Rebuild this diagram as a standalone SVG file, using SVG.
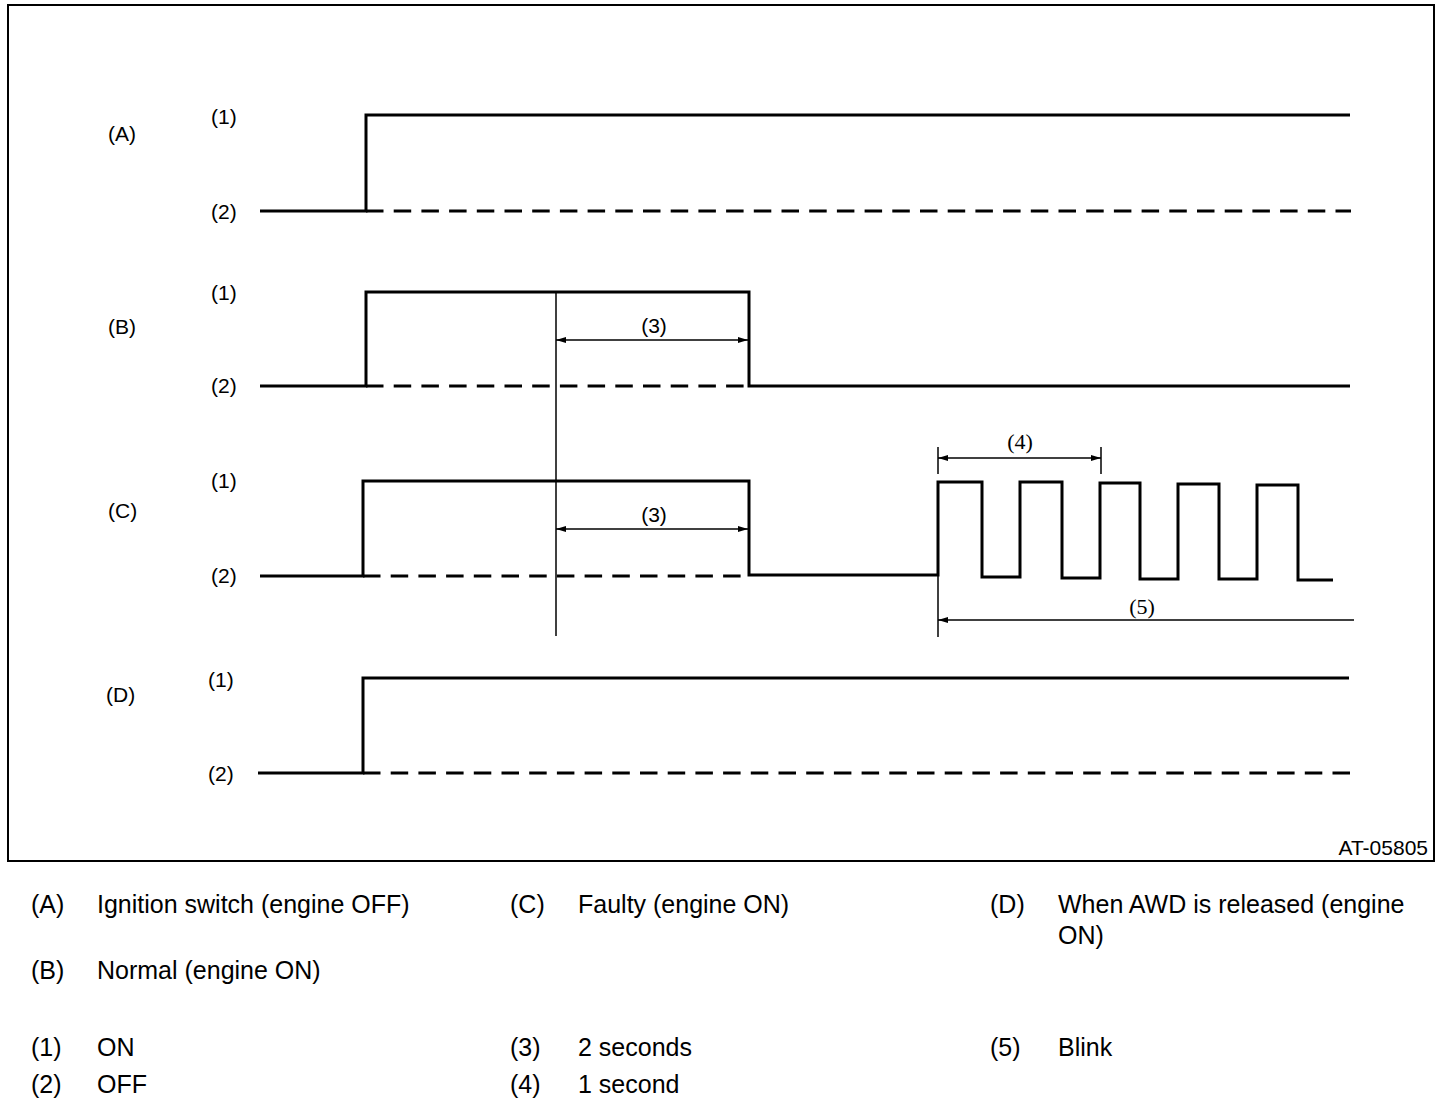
<svg xmlns="http://www.w3.org/2000/svg" width="1456" height="1108" viewBox="0 0 1456 1108">
<style>
.t{font-family:"Liberation Sans",Arial,sans-serif;font-size:21px;fill:#000}
.s{font-family:"Liberation Serif","Times New Roman",serif;font-size:22px;fill:#000}
.l{font-family:"Liberation Sans",Arial,sans-serif;font-size:25px;fill:#000}
.w{fill:none;stroke:#000;stroke-width:3;stroke-linejoin:miter;stroke-linecap:butt}
.d{fill:none;stroke:#000;stroke-width:3;stroke-dasharray:17.5 10.2}
.th{fill:none;stroke:#000;stroke-width:1.5}
</style>
<defs>
<marker id="ah" viewBox="0 0 10 6" refX="10" refY="3" markerWidth="10" markerHeight="6.5" orient="auto-start-reverse" markerUnits="userSpaceOnUse">
<path d="M0,0 L10,3 L0,6 z" fill="#000"/>
</marker>
</defs>
<rect x="0" y="0" width="1456" height="1108" fill="#fff"/>
<rect id="frame" x="8" y="5" width="1426" height="856" fill="none" stroke="#000" stroke-width="2"/>

<g id="waveA">
<text class="t" x="108" y="141">(A)</text>
<text class="t" x="211" y="124">(1)</text>
<text class="t" x="211" y="219">(2)</text>
<path class="w" d="M260,211 H366 V115 H1350"/>
<path class="d" d="M366,211 H1351"/>
</g>

<g id="waveB">
<text class="t" x="108" y="334">(B)</text>
<text class="t" x="211" y="300">(1)</text>
<text class="t" x="211" y="393">(2)</text>
<path class="w" d="M260,386 H366 V292 H749 V386 H1350"/>
<path class="d" d="M366,386 H749"/>
</g>

<g id="waveC">
<text class="t" x="108" y="518">(C)</text>
<text class="t" x="211" y="488">(1)</text>
<text class="t" x="211" y="583">(2)</text>
<path class="w" d="M260,576 H363 V481 H749 V575 H938 V482 H982 V577 H1020 V482 H1062 V578 H1100 V483 H1140 V579 H1178 V484 H1219 V579 H1257 V485 H1298 V580 H1333"/>
<path class="d" d="M363,576 H749"/>
</g>

<g id="waveD">
<text class="t" x="106" y="702">(D)</text>
<text class="t" x="208" y="687">(1)</text>
<text class="t" x="208" y="781">(2)</text>
<path class="w" d="M258,773 H363 V678 H1349"/>
<path class="d" d="M363,773 H1351"/>
</g>

<g id="connectors">
<line class="th" x1="556" y1="292" x2="556" y2="636"/>
<line class="th" x1="556" y1="340" x2="748" y2="340" marker-start="url(#ah)" marker-end="url(#ah)"/>
<line class="th" x1="556" y1="529" x2="748" y2="529" marker-start="url(#ah)" marker-end="url(#ah)"/>
<line class="th" x1="938" y1="447" x2="938" y2="474"/>
<line class="th" x1="1101" y1="447" x2="1101" y2="474"/>
<line class="th" x1="938" y1="458" x2="1101" y2="458" marker-start="url(#ah)" marker-end="url(#ah)"/>
<line class="th" x1="938" y1="575" x2="938" y2="637"/>
<line class="th" x1="938" y1="620" x2="1354" y2="620" marker-start="url(#ah)"/>
<text class="t" x="654" y="333" text-anchor="middle">(3)</text>
<text class="t" x="654" y="522" text-anchor="middle">(3)</text>
<text class="s" x="1020" y="449" text-anchor="middle">(4)</text>
<text class="s" x="1142" y="614" text-anchor="middle">(5)</text>
</g>

<text class="t" x="1428" y="855" text-anchor="end">AT-05805</text>

<g id="legend">
<text class="l" x="31" y="913">(A)</text>
<text class="l" x="97" y="913">Ignition switch (engine OFF)</text>
<text class="l" x="31" y="979">(B)</text>
<text class="l" x="97" y="979">Normal (engine ON)</text>
<text class="l" x="31" y="1056">(1)</text>
<text class="l" x="97" y="1056">ON</text>
<text class="l" x="31" y="1093">(2)</text>
<text class="l" x="97" y="1093">OFF</text>
<text class="l" x="510" y="913">(C)</text>
<text class="l" x="578" y="913">Faulty (engine ON)</text>
<text class="l" x="510" y="1056">(3)</text>
<text class="l" x="578" y="1056">2 seconds</text>
<text class="l" x="510" y="1093">(4)</text>
<text class="l" x="578" y="1093">1 second</text>
<text class="l" x="990" y="913">(D)</text>
<text class="l" x="1058" y="913">When AWD is released (engine</text>
<text class="l" x="1058" y="944">ON)</text>
<text class="l" x="990" y="1056">(5)</text>
<text class="l" x="1058" y="1056">Blink</text>
</g>
</svg>
